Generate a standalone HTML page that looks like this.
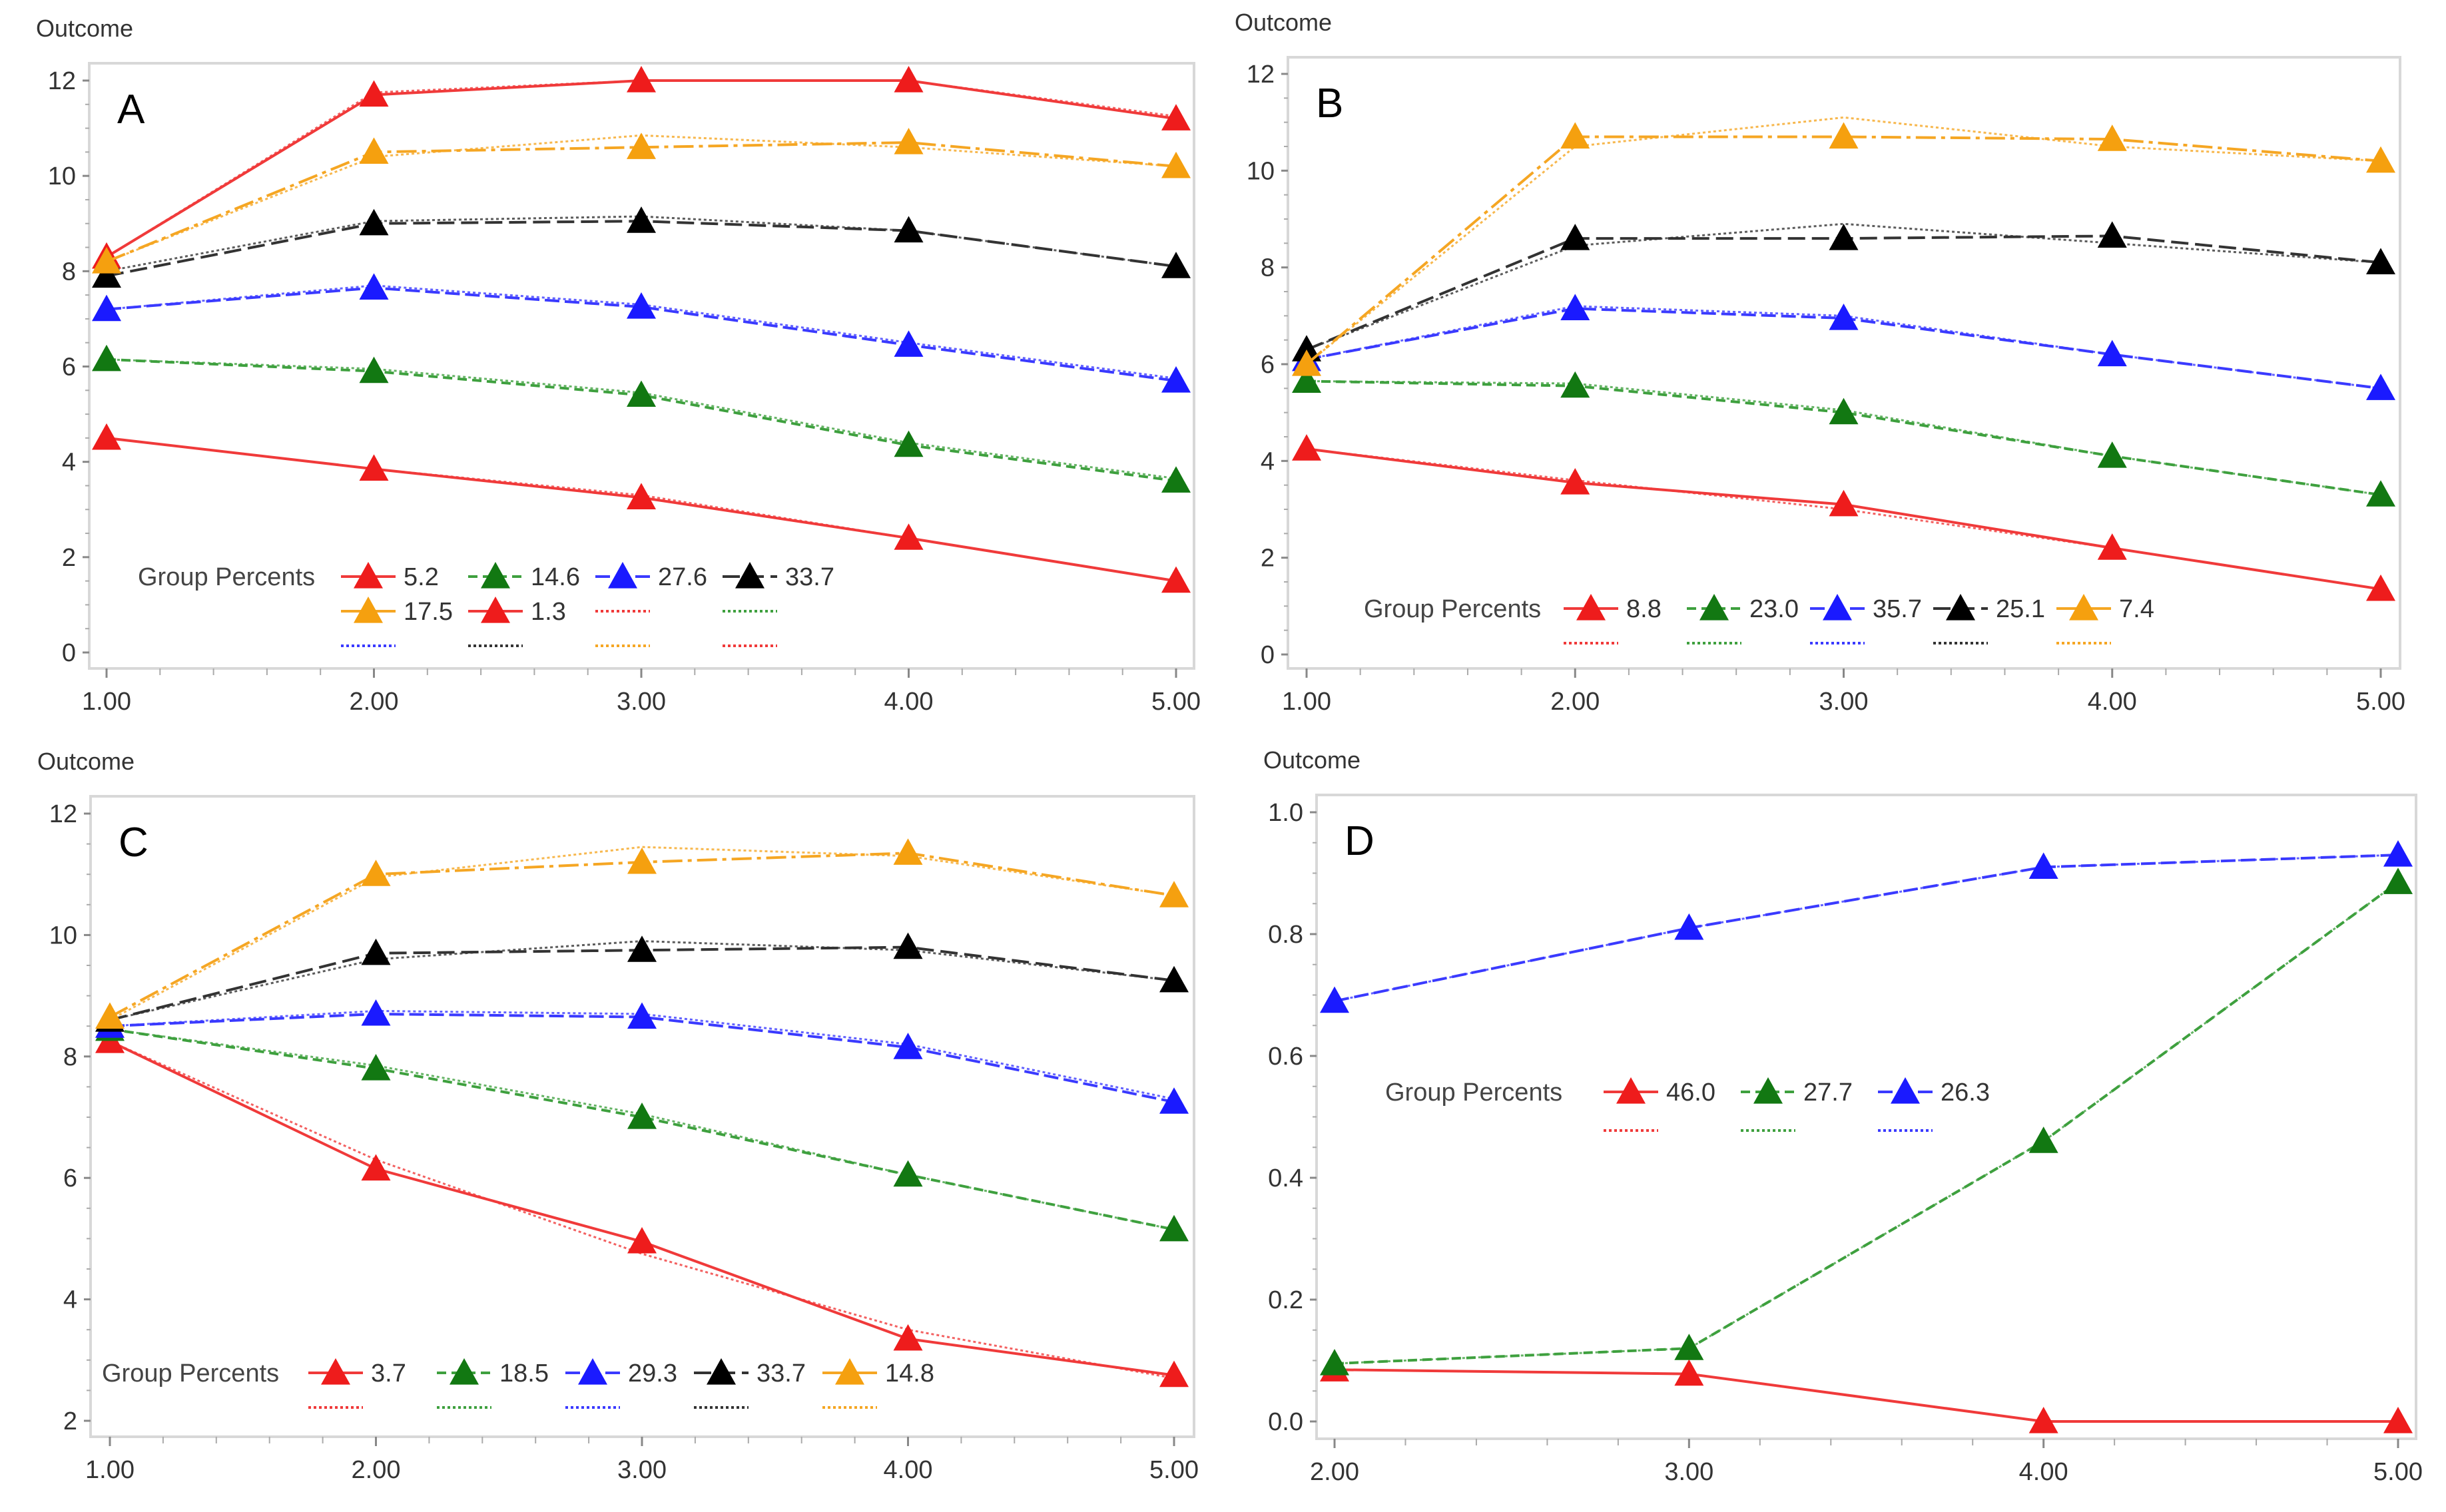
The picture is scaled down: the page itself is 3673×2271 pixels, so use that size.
<!DOCTYPE html>
<html><head><meta charset="utf-8"><style>
html,body{margin:0;padding:0;background:#fff}
svg{display:block;font-family:"Liberation Sans",sans-serif}
</style></head><body>
<svg id="chart" width="3673" height="2271" viewBox="0 0 3673 2271" xmlns="http://www.w3.org/2000/svg"></svg>
<script>
// ---- Panel A data ----
const aX = [1,2,3,4,5];
const aRed1 = [8.3,11.7,12.0,12.0,11.2];
const aRed1Obs = [8.3,11.75,12.0,12.0,11.25];
const aOrange = [8.2,10.5,10.6,10.7,10.2];
const aOrangeObs = [8.2,10.4,10.85,10.6,10.2];
const aBlack = [7.9,9.0,9.05,8.85,8.1];
const aBlackObs = [8.0,9.05,9.15,8.85,8.1];
const aBlue = [7.2,7.65,7.25,6.45,5.7];
const aBlueObs = [7.2,7.7,7.3,6.5,5.75];
const aGreen = [6.15,5.9,5.4,4.35,3.6];
const aGreenObs = [6.15,5.95,5.45,4.4,3.65];
const aRed2 = [4.5,3.85,3.25,2.4,1.5];
const aRed2Obs = [4.5,3.85,3.3,2.4,1.5];
const aLabels = ["5.2","14.6","27.6","33.7","17.5","1.3"];
const aYTicks = [0,2,4,6,8,10,12];
// ---- Panel B data ----
const bX = [1,2,3,4,5];
const bRed = [4.25,3.55,3.1,2.2,1.35];
const bRedObs = [4.25,3.6,3.0,2.2,1.35];
const bGreen = [5.65,5.55,5.0,4.1,3.3];
const bGreenObs = [5.65,5.6,5.05,4.1,3.3];
const bBlue = [6.1,7.15,6.95,6.2,5.5];
const bBlueObs = [6.1,7.2,7.0,6.2,5.5];
const bBlack = [6.3,8.6,8.6,8.65,8.1];
const bBlackObs = [6.3,8.45,8.9,8.5,8.1];
const bOrange = [6.0,10.7,10.7,10.65,10.2];
const bOrangeObs = [6.0,10.5,11.1,10.5,10.2];
const bLabels = ["8.8","23.0","35.7","25.1","7.4"];
const bYTicks = [0,2,4,6,8,10,12];
// ---- Panel C data ----
const cX = [1,2,3,4,5];
const cRed = [8.25,6.15,4.95,3.35,2.75];
const cRedObs = [8.25,6.3,4.75,3.5,2.7];
const cGreen = [8.45,7.8,7.0,6.05,5.15];
const cGreenObs = [8.45,7.85,7.05,6.05,5.15];
const cBlue = [8.5,8.7,8.65,8.15,7.25];
const cBlueObs = [8.5,8.75,8.7,8.2,7.3];
const cBlack = [8.6,9.7,9.75,9.8,9.25];
const cBlackObs = [8.6,9.6,9.9,9.75,9.25];
const cOrange = [8.65,11.0,11.2,11.35,10.65];
const cOrangeObs = [8.6,10.95,11.45,11.3,10.65];
const cLabels = ["3.7","18.5","29.3","33.7","14.8"];
const cYTicks = [2,4,6,8,10,12];
// ---- Panel D data ----
const dX = [2,3,4,5];
const dRed = [0.085,0.078,0.0,0.0];
const dRedObs = [0.085,0.078,0.0,0.0];
const dGreen = [0.095,0.12,0.46,0.885];
const dGreenObs = [0.095,0.12,0.46,0.885];
const dBlue = [0.69,0.81,0.91,0.93];
const dBlueObs = [0.69,0.81,0.91,0.93];
const dLabels = ["46.0","27.7","26.3"];
const dYTicks = [0,0.2,0.4,0.6,0.8,1.0];

const NS="http://www.w3.org/2000/svg";
const svg=document.getElementById('chart');
const COL={red:{line:'#f03a3a',mk:'#ee1c1c'},green:{line:'#3ea03e',mk:'#127812'},blue:{line:'#3a3aff',mk:'#1a1aff'},black:{line:'#333',mk:'#000'},orange:{line:'#f5a623',mk:'#f5a00f'}};
const DASH={red:'',green:'14,8',blue:'22,8',black:'26,10',orange:'30,8,6,8'};
function mk(tag,attrs,parent){const e=document.createElementNS(NS,tag);for(const k in attrs)e.setAttribute(k,attrs[k]);(parent||svg).appendChild(e);return e;}
function tri(g,x,y,c){const s=22;return mk('polygon',{points:`${x},${y-s} ${x-s},${y+s*0.8} ${x+s},${y+s*0.8}`,fill:c},g);}

function panel(p){
  const g=mk('g',{});
  
  
  const fx=v=>p.x0+(v-p.xmin)/(p.xmax-p.xmin)*(p.x1-p.x0);
  const fy=v=>p.y0+(v-p.ymin)/(p.ymax-p.ymin)*(p.y1-p.y0);
  const fr=mk('rect',{x:p.fl,y:p.ft,width:p.fr-p.fl,height:p.fb-p.ft,fill:'none',stroke:'#d8d8d8','stroke-width':4},g);
  
  
  const yt=mk('text',{x:p.fl-80,y:p.ft-40,'font-size':36,fill:'#333'},g);
  yt.textContent='Outcome';
  
  
  const lt=mk('text',{x:p.fl+42,y:p.ft+90,'font-size':62,fill:'#000'},g);
  lt.textContent=p.letter;
  
  
  // y ticks
  const step=p.yTicks[1]-p.yTicks[0];
  for(let i=0;i<p.yTicks.length;i++){
    const v=p.yTicks[i],y=fy(v);
    mk('line',{x1:p.fl-10,x2:p.fl,y1:y,y2:y,stroke:'#888','stroke-width':3},g);
    const t=mk('text',{x:p.fl-20,y:y+13,'font-size':38,fill:'#333','text-anchor':'end'},g);
    t.textContent=p.yfmt(v);
    
    
    if(i<p.yTicks.length-1){for(let k=1;k<4;k++){const yy=fy(v+step*k/4);mk('line',{x1:p.fl-6,x2:p.fl,y1:yy,y2:yy,stroke:'#aaa','stroke-width':2},g);}}
  }
  // x ticks
  for(let i=0;i<p.xTicks.length;i++){
    const v=p.xTicks[i],x=fx(v);
    mk('line',{x1:x,x2:x,y1:p.fb,y2:p.fb+14,stroke:'#888','stroke-width':3},g);
    const t=mk('text',{x:x,y:p.fb+62,'font-size':38,fill:'#333','text-anchor':'middle'},g);
    t.textContent=v.toFixed(2);
    
    
    if(i<p.xTicks.length-1){for(let k=1;k<5;k++){const xx=fx(v+k/5);mk('line',{x1:xx,x2:xx,y1:p.fb,y2:p.fb+10,stroke:'#aaa','stroke-width':2},g);}}
  }
  // series
  p.series.forEach(s=>{
    const c=COL[s.c];
    const obs=mk('polyline',{points:p.xs.map((x,i)=>fx(x)+','+fy(s.obs[i])).join(' '),fill:'none',stroke:c.line,'stroke-width':3,'stroke-dasharray':'4,4','opacity':0.8},g);
    
    
    const ln=mk('polyline',{points:p.xs.map((x,i)=>fx(x)+','+fy(s.v[i])).join(' '),fill:'none',stroke:c.line,'stroke-width':4,'stroke-dasharray':DASH[s.c]},g);
    
    
    p.xs.forEach((x,i)=>{const m=tri(g,fx(x),fy(s.v[i]),c.mk);
      
      });
  });
  // legend
  const L=p.leg;
  const lg=mk('g',{},g);
  
  
  const gt=mk('text',{x:L.tx,y:L.y+13,'font-size':38,fill:'#444'},lg);
  gt.textContent='Group Percents';
  const items=[];
  p.series.forEach((s,i)=>items.push({type:'solid',c:s.c,label:p.labels[i]}));
  p.series.forEach(s=>items.push({type:'dot',c:s.c}));
  items.forEach((it,i)=>{
    const row=Math.floor(i/L.per),col=i%L.per;
    const x=L.x+col*L.sp,y=L.y+row*L.rh;
    const c=COL[it.c];
    if(it.type==='solid'){
      const e=mk('g',{},lg);
      
      
      mk('line',{x1:x,x2:x+82,y1:y,y2:y,stroke:c.line,'stroke-width':4,'stroke-dasharray':DASH[it.c]},e);
      tri(e,x+41,y,c.mk);
      const t=mk('text',{x:x+94,y:y+13,'font-size':38,fill:'#333'},e);t.textContent=it.label;
    } else {
      const e=mk('line',{x1:x,x2:x+82,y1:y+L.dy,y2:y+L.dy,stroke:c.line,'stroke-width':4,'stroke-dasharray':'4,4'},lg);
      
      
    }
  });
}

const f0=v=>String(Math.round(v));
panel({letter:'A',fl:134,fr:1793,ft:95,fb:1004,x0:160,x1:1766,xmin:1,xmax:5,y0:980,y1:121,ymin:0,ymax:12,
  xs:aX,xTicks:[1,2,3,4,5],yTicks:aYTicks,yfmt:f0,labels:aLabels,
  series:[{c:'red',v:aRed1,obs:aRed1Obs},{c:'green',v:aGreen,obs:aGreenObs},{c:'blue',v:aBlue,obs:aBlueObs},{c:'black',v:aBlack,obs:aBlackObs},{c:'orange',v:aOrange,obs:aOrangeObs},{c:'red',v:aRed2,obs:aRed2Obs}],
  leg:{tx:207,x:512,y:866,sp:191,rh:52,per:4,dy:0}});
panel({letter:'B',fl:1934,fr:3604,ft:86,fb:1004,x0:1962,x1:3575,xmin:1,xmax:5,y0:983,y1:111,ymin:0,ymax:12,
  xs:bX,xTicks:[1,2,3,4,5],yTicks:bYTicks,yfmt:f0,labels:bLabels,
  series:[{c:'red',v:bRed,obs:bRedObs},{c:'green',v:bGreen,obs:bGreenObs},{c:'blue',v:bBlue,obs:bBlueObs},{c:'black',v:bBlack,obs:bBlackObs},{c:'orange',v:bOrange,obs:bOrangeObs}],
  leg:{tx:2048,x:2348,y:914,sp:185,rh:52,per:5,dy:0}});
panel({letter:'C',fl:136,fr:1793,ft:1196,fb:2158,x0:165,x1:1763,xmin:1,xmax:5,y0:2134,y1:1222,ymin:2,ymax:12,
  xs:cX,xTicks:[1,2,3,4,5],yTicks:cYTicks,yfmt:f0,labels:cLabels,
  series:[{c:'red',v:cRed,obs:cRedObs},{c:'green',v:cGreen,obs:cGreenObs},{c:'blue',v:cBlue,obs:cBlueObs},{c:'black',v:cBlack,obs:cBlackObs},{c:'orange',v:cOrange,obs:cOrangeObs}],
  leg:{tx:153,x:463,y:2062,sp:193,rh:52,per:5,dy:0}});
panel({letter:'D',fl:1977,fr:3628,ft:1194,fb:2161,x0:2004,x1:3601,xmin:2,xmax:5,y0:2135,y1:1220,ymin:0,ymax:1,
  xs:dX,xTicks:[2,3,4,5],yTicks:dYTicks,yfmt:v=>v.toFixed(1),labels:dLabels,
  series:[{c:'red',v:dRed,obs:dRedObs},{c:'green',v:dGreen,obs:dGreenObs},{c:'blue',v:dBlue,obs:dBlueObs}],
  leg:{tx:2080,x:2408,y:1640,sp:206,rh:58,per:3,dy:0}});
</script>
</body></html>
